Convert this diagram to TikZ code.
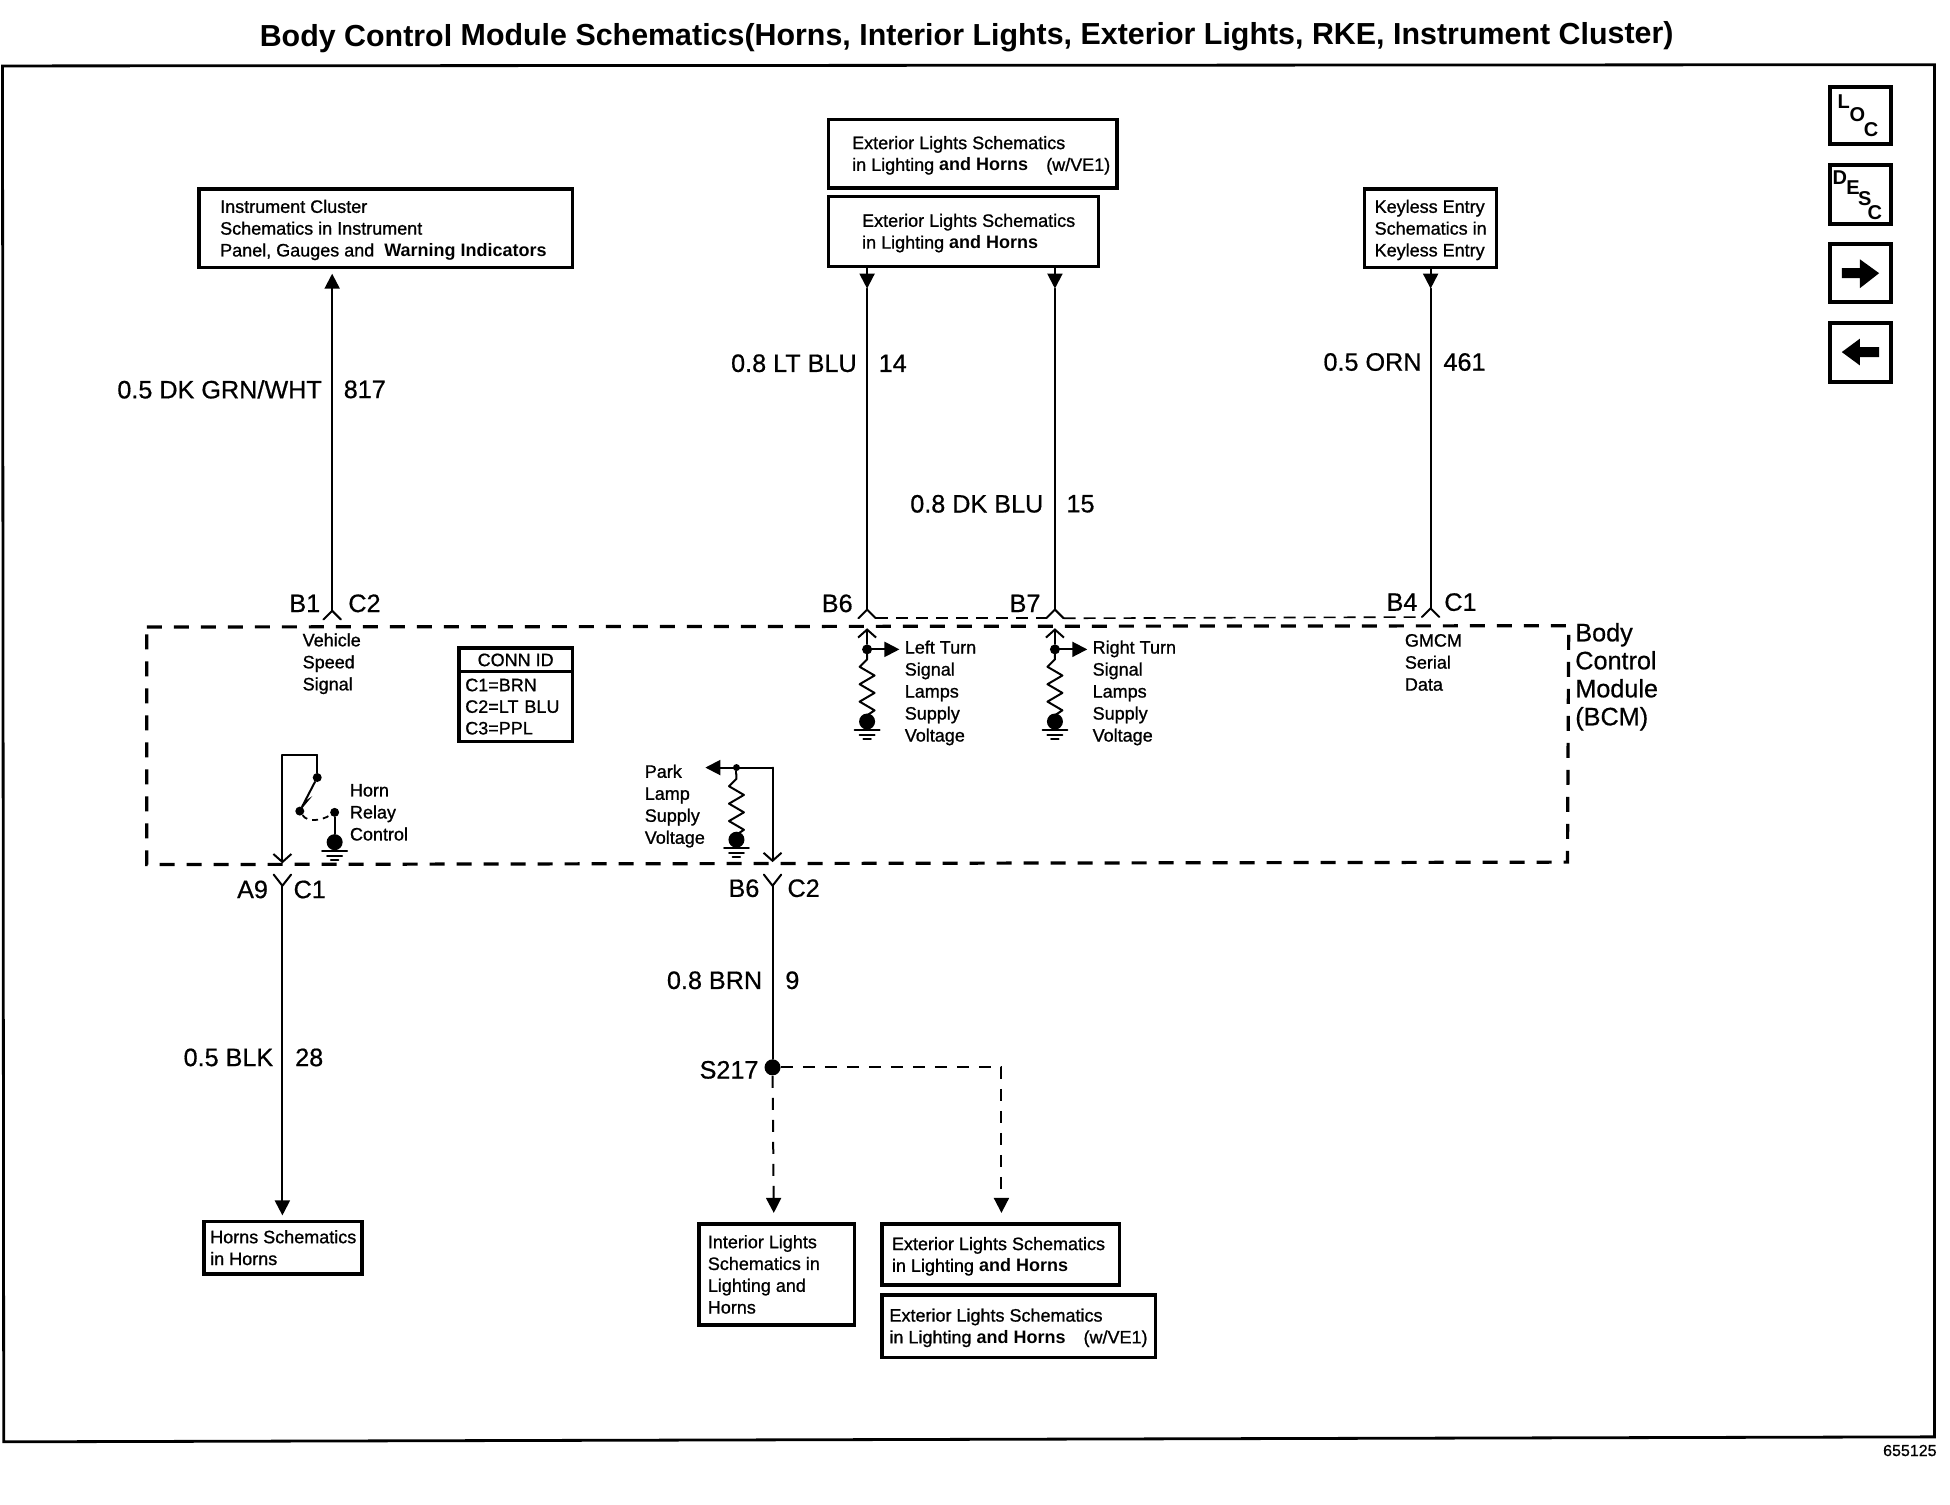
\documentclass[tikz,border=0pt]{standalone}
\usepackage{fontspec}
\setmainfont[FakeBold=0.6]{Liberation Sans}
\newfontfamily\heavyfont[FakeBold=1.0]{Liberation Sans}
\newfontfamily\titlefont{Liberation Sans Bold}
\usetikzlibrary{arrows.meta,calc}
\def\upx{0.622}
\tikzset{
  x=0.622pt,y=-0.622pt,
  wire/.style={line width=1pt,line cap=round,line join=round},
  bcm/.style={line width=1.6pt,dash pattern=on 7.5pt off 6pt},
  serial/.style={line width=0.8pt,dash pattern=on 6pt off 4pt},
  branch/.style={line width=1pt,dash pattern=on 6pt off 5pt},
  ftip/.style={-{Triangle[length=7.5pt,width=7.5pt]}},
  otip/.style={-{Straight Barb[length=4pt,width=9pt,line width=1pt]}},
  box/.style={draw,line width=1.7pt,anchor=north west,outer sep=0pt,inner ysep=0pt,inner xsep=0pt,font=\heavyfont\fontsize{9}{10.9}\selectfont},
  small/.style={inner sep=0pt,align=left,font=\heavyfont\fontsize{9}{11}\selectfont},
  big/.style={inner sep=0pt,font=\fontsize{12.6}{14}\selectfont},
  icon/.style={draw,line width=2pt,anchor=north west,outer sep=0pt,inner sep=0pt},
  letter/.style={inner sep=0pt,font=\titlefont\fontsize{10}{10}\selectfont},
  dotn/.style={circle,fill,inner sep=0pt},
}
\newcommand\hb[1]{{\titlefont\fontsize{9}{10.9}\selectfont #1}}
\newcommand\bx[7]{\node[box,minimum width={(#4-#2)*\upx*1pt},minimum height={(#5-#3)*\upx*1pt}] (#1) at (#2,#3) {\raisebox{-1pt}[\height][\depth]{\makebox[\dimexpr 0.622pt*\numexpr#4-#2\relax\relax][l]{\hspace*{\dimexpr 0.622pt*#6\relax}\begin{tabular}{@{}l@{}}#7\end{tabular}}}};}
\newcommand\yup[1]{\draw[wire] ([shift={(-7,7)}]#1) -- (#1) -- ([shift={(7,7)}]#1);}
\newcommand\ydown[1]{\draw[wire] ([shift={(-7,-9)}]#1) -- (#1) -- ([shift={(7,-9)}]#1);}
\newcommand\gnd[1]{\draw[wire] ([shift={(-10,7)}]#1.center) -- ([shift={(10,7)}]#1.center) ([shift={(-6,11)}]#1.center) -- ([shift={(6,11)}]#1.center) ([shift={(-3,14)}]#1.center) -- ([shift={(3,14)}]#1.center);}
\newcommand\zig[1]{\draw[wire] (#1) -- ++(0,4) -- ++(-6,6) -- ++(12,7) -- ++(-12,7) -- ++(12,7) -- ++(-12,7) -- ++(12,7) -- ++(-6,4) -- ++(0,3);}
\begin{document}
\begin{tikzpicture}
\useasboundingbox (0,0) rectangle (1567.5,1209);
% frame
\draw[line width=1.4pt] (2,53) -- (1555,52) -- (1555,1155) -- (3,1159) -- cycle;
% title
\node[inner sep=0pt,rotate=0.1,font=\titlefont\fontsize{15.2}{17}\selectfont] (title) at (777,30) {Body Control Module Schematics(Horns, Interior Lights, Exterior Lights, RKE, Instrument Cluster)};
\node[inner sep=0pt,anchor=east,font=\fontsize{8}{9}\selectfont] (refnum) at (1557,1166) {655125};
% boxes
\bx{inst}{160}{152}{460}{215}{17}{Instrument Cluster\\Schematics in Instrument\\Panel, Gauges and\hspace{5pt}\hb{Warning Indicators}}
\bx{extA}{666}{96}{898}{151}{19}{Exterior Lights Schematics\\in Lighting \hb{and Horns}\hspace{9pt}(w/VE1)}
\bx{extB}{666}{158}{883}{214}{27}{Exterior Lights Schematics\\in Lighting \hb{and Horns}}
\bx{key}{1097}{152}{1203}{215}{8}{Keyless Entry\\Schematics in\\Keyless Entry}
\bx{horns}{164}{982}{291}{1024}{5}{Horns Schematics\\in Horns}
\bx{inter}{562}{984}{687}{1065}{7}{Interior Lights\\Schematics in\\Lighting and\\Horns}
\bx{extC}{709}{984}{900}{1033}{8}{Exterior Lights Schematics\\in Lighting \hb{and Horns}}
\bx{extD}{709}{1041}{929}{1091}{6}{Exterior Lights Schematics\\in Lighting \hb{and Horns}\hspace{9pt}(w/VE1)}
% conn id
\node[draw,line width=1.7pt,anchor=north west,minimum width={91*\upx*1pt},minimum height={19*\upx*1pt},inner sep=0pt,outer sep=0pt,font=\heavyfont\fontsize{9}{11}\selectfont] (connh) at (369,521) {CONN ID};
\node[draw,line width=1.7pt,anchor=north west,minimum width={91*\upx*1pt},minimum height={56*\upx*1pt},inner sep=0pt,inner xsep={5*\upx*1pt},text width={81*\upx*1pt},outer sep=0pt,align=left,font=\heavyfont\fontsize{9}{10.8}\selectfont] (connb) at (369,540) {C1=BRN\\C2=LT BLU\\C3=PPL};
% icons
\node[icon,minimum width={49*\upx*1pt},minimum height={46*\upx*1pt}] (loc) at (1471,70) {};
\node[letter] (locL) at (1482,82) {L};
\node[letter] (locO) at (1493,92.5) {O};
\node[letter] (locC) at (1504,104.5) {C};
\node[icon,minimum width={49*\upx*1pt},minimum height={47*\upx*1pt}] (desc) at (1471,133) {};
\node[letter] (descD) at (1479,142.6) {D};
\node[letter] (descE) at (1489.6,151) {E};
\node[letter] (descS) at (1499,160) {S};
\node[letter] (descC) at (1507,171) {C};
\node[icon,minimum width={49*\upx*1pt},minimum height={47*\upx*1pt}] (fwd) at (1471,196) {};
\node[icon,minimum width={49*\upx*1pt},minimum height={47*\upx*1pt}] (back) at (1471,260) {};
\fill (1480.5,215.6) -- (1495,215.6) -- (1495,208.4) -- (1510.5,219.6) -- (1495,231.7) -- (1495,223.6) -- (1480.5,223.6) -- cycle;
\fill (1510.5,279) -- (1495,279) -- (1495,272.3) -- (1480.5,283) -- (1495,293.7) -- (1495,287) -- (1510.5,287) -- cycle;
% BCM
\draw[bcm] (118,504) -- (1261,503) -- (1260,693) -- (118,695) -- cycle;
\node[inner sep=0pt,anchor=north west,align=left,font=\fontsize{12.6}{14}\selectfont] (bcmlabel) at (1266,500.5) {Body\\Control\\Module\\(BCM)};
% coordinates
\coordinate (cB1) at (267,491);
\coordinate (cB6) at (697,490);
\coordinate (cB7) at (848,490);
\coordinate (cB4) at (1150,489);
\coordinate (cA9) at (227,712);
\coordinate (cP6) at (621,712);
\coordinate (hA) at (227,694);
\coordinate (pA) at (621,693);
\coordinate (aI) at (267,220);
\coordinate (aB6) at (697,232);
\coordinate (aB7) at (848,232);
\coordinate (aB4) at (1150,232);
% wires to top
\draw[wire,ftip] (cB1) -- (aI);
\draw[wire,ftip] (extB.south -| cB6) -- (aB6);
\draw[wire] (aB6) -- (cB6);
\draw[wire,ftip] (extB.south -| cB7) -- (aB7);
\draw[wire] (aB7) -- (cB7);
\draw[wire,ftip] (key.south -| cB4) -- (aB4);
\draw[wire] (aB4) -- (cB4);
\yup{cB1}\yup{cB6}\yup{cB7}\yup{cB4}
\draw[serial] ([shift={(7,7)}]cB6) -- ([shift={(-7,7)}]cB7);
\draw[serial] ([shift={(7,7)}]cB7) -- ([shift={(-7,7)}]cB4);
% labels top
\node[big,anchor=east] (lA) at (259,313) {0.5 DK GRN/WHT};
\node[big,anchor=west] (nA) at (276,313) {817};
\node[big,anchor=east] (lB) at (689,292) {0.8 LT BLU};
\node[big,anchor=west] (nB) at (706,292) {14};
\node[big,anchor=east] (lC) at (839,405) {0.8 DK BLU};
\node[big,anchor=west] (nC) at (857,405) {15};
\node[big,anchor=east] (lD) at (1143,291) {0.5 ORN};
\node[big,anchor=west] (nD) at (1160,291) {461};
\node[big] (pB1) at (245,485) {B1};
\node[big] (pC2) at (293,485) {C2};
\node[big] (pB6) at (673,485) {B6};
\node[big] (pB7) at (824,485) {B7};
\node[big] (pB4) at (1127,484) {B4};
\node[big] (pC1) at (1174,484) {C1};
% inner texts
\node[small,anchor=west] (vss) at (243,533.5) {Vehicle\\Speed\\Signal};
\node[small,anchor=west] (gmcm) at (1129,532.5) {GMCM\\Serial\\Data};
\node[small,anchor=west] (hrc) at (281,653) {Horn\\Relay\\Control};
\node[small,anchor=west] (park) at (518,648) {Park\\Lamp\\Supply\\Voltage};
\node[small,anchor=west] (ltn) at (727,557) {Left Turn\\Signal\\Lamps\\Supply\\Voltage};
\node[small,anchor=west] (rtn) at (878,557) {Right Turn\\Signal\\Lamps\\Supply\\Voltage};
% left/right turn circuits
\foreach \nm/\cx in {L/697,R/848}{
  \coordinate (tip\nm) at (\cx,505);
  \node[dotn,minimum size=5pt] (dot\nm) at (\cx,522) {};
  \coordinate (zig\nm) at (\cx,526);
  \node[dotn,minimum size=8pt] (gnd\nm) at (\cx,580) {};
  \draw[wire,otip] (dot\nm) -- (tip\nm);
  \draw[wire,ftip] (dot\nm.center) -- ++(26,0);
  \draw[wire] (dot\nm) -- (zig\nm);
  \zig{zig\nm}
  \gnd{gnd\nm}
}
% horn relay
\coordinate (hT) at (227,607);
\coordinate (hR) at (255,607);
\node[dotn,minimum size=4.5pt] (sw1) at (255,625) {};
\node[dotn,minimum size=4.5pt] (sw2) at (241,652) {};
\node[dotn,minimum size=4.5pt] (sw3) at (269,653) {};
\node[dotn,minimum size=8pt] (gH) at (269,677) {};
\draw[wire,otip] (hR) -- (hT) -- (hA);
\draw[wire] (hR) -- (sw1);
\draw[wire] (sw1) -- (sw2);
\fill (245,644) -- (251,640) -- (241,652) -- cycle;
\draw[line width=0.9pt,dash pattern=on 3pt off 2.5pt] (sw2) .. controls (247,661) and (258,660) .. (sw3);
\draw[wire] (sw3) -- (gH);
\gnd{gH}
% park lamp
\coordinate (pT) at (621,617);
\coordinate (pTip) at (567,617);
\node[dotn,minimum size=3.5pt] (pD) at (592,617) {};
\coordinate (zigP) at (592,622);
\node[dotn,minimum size=8pt] (gP) at (592,675) {};
\draw[wire,otip] (pT) -- (pA);
\draw[wire,ftip] (pT) -- (pTip);
\draw[wire] (pD) -- (zigP);
\zig{zigP}
\gnd{gP}
% bottom
\ydown{cA9}\ydown{cP6}
\node[dotn,minimum size=8pt] (s217) at (621,858) {};
\coordinate (aH) at (227,977);
\coordinate (aI2) at (622,975);
\coordinate (aE) at (805,975);
\coordinate (brk) at (805,858);
\draw[wire,ftip] (cA9) -- (aH);
\draw[wire] (cP6) -- (s217);
\draw[branch,ftip] (s217) -- (aI2);
\draw[branch,ftip] (s217) -- (brk) -- (aE);
\node[big] (pA9) at (203,715) {A9};
\node[big] (pC1b) at (249,715) {C1};
\node[big] (pB6b) at (598,714) {B6};
\node[big] (pC2b) at (646,714) {C2};
\node[big,anchor=east] (lE) at (220,850) {0.5 BLK};
\node[big,anchor=west] (nE) at (237,850) {28};
\node[big,anchor=east] (lF) at (613,788) {0.8 BRN};
\node[big,anchor=west] (nF) at (631,788) {9};
\node[big,anchor=east] (ls) at (610,860) {S217};
\end{tikzpicture}
\end{document}
